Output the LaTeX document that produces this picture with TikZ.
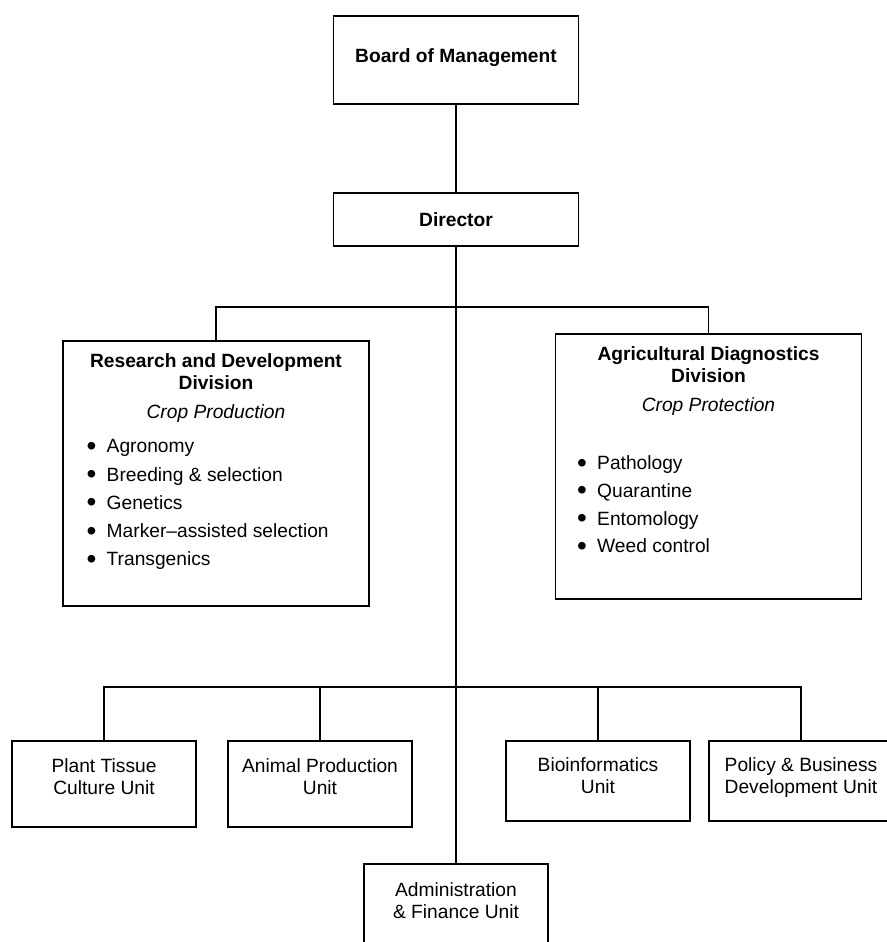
\documentclass[tikz,border=0pt]{standalone}
\usepackage{fontspec}
\setmainfont{Liberation Sans}
\usetikzlibrary{positioning,calc}
\newcommand{\bitem}[1]{\makebox[10pt][l]{\raisebox{-1.3pt}{\fontsize{14}{11}\selectfont\textbullet}}#1}

\begin{document}
\begin{tikzpicture}[x=0.5pt,y=-0.5pt,
  font=\fontsize{9.6}{11}\selectfont,
  box/.style={draw,line width=0.7pt,inner sep=0pt,align=center},
  topbox/.style={box,font=\fontsize{9.6}{11}\selectfont\bfseries,minimum width=122.5pt},
  divbox/.style={box,minimum width=153pt,minimum height=132.5pt},
  divhead/.style={inner sep=0pt,align=center},
  divlist/.style={inner sep=0pt,align=left,anchor=north west},
  unitbox/.style={box,minimum width=92pt,minimum height=43pt,text depth=7pt},
  link/.style={line width=0.7pt}]

\useasboundingbox (0,0) rectangle (887,942);

\node[topbox,minimum height=44pt,text depth=4pt] (board) at (456,60) {Board of Management};
\node[topbox,minimum height=26.5pt] (director) at (456,219.5) {Director};

% divisions
\node[divbox] (rnd) at (216,473.5) {};
\node[divhead,below=6.5pt of rnd.north] (rndhead) {\textbf{Research and Development}\\
      \textbf{Division}\\[3.5pt]\textit{Crop Production}};
\node[divlist,font=\fontsize{9.6}{14.1}\selectfont] (rndlist)
      at ($(rnd.north west)+(24,99)$) {\bitem{Agronomy}\\\bitem{Breeding \& selection}\\
      \bitem{Genetics}\\\bitem{Marker--assisted selection}\\\bitem{Transgenics}};

\node[divbox] (adx) at (708.5,466.5) {};
\node[divhead,below=6.5pt of adx.north] (adxhead) {\textbf{Agricultural Diagnostics}\\
      \textbf{Division}\\[3.5pt]\textit{Crop Protection}};
\node[divlist,font=\fontsize{9.6}{13.85}\selectfont] (adxlist)
      at ($(adx.north west)+(22,122)$) {\bitem{Pathology}\\\bitem{Quarantine}\\
      \bitem{Entomology}\\\bitem{Weed control}};

% units
\node[unitbox] (ptc) at (104,784) {Plant Tissue\\Culture Unit};
\node[unitbox] (apu) at (320,784) {Animal Production\\Unit};
\node[unitbox,minimum height=40pt,text depth=5pt] (bio) at (598,781) {Bioinformatics\\Unit};
\node[unitbox,minimum height=40pt,text depth=5pt] (pbd) at (801,781) {Policy \& Business\\Development Unit};
\node[unitbox,text depth=6pt] (afu) at (456,907) {Administration\\\& Finance Unit};

\coordinate (divbar) at (456,307);
\coordinate (unitbar) at (456,687);

\draw[link] (board) -- (director);
\draw[link] (director.south) -- (afu.north);
\draw[link] (rnd.north) |- (divbar) -| (adx.north);
\draw[link] (ptc.north) |- (unitbar) -| (pbd.north);
\draw[link] (apu.north) -- (apu.north |- unitbar);
\draw[link] (bio.north) -- (bio.north |- unitbar);
\end{tikzpicture}
\end{document}
